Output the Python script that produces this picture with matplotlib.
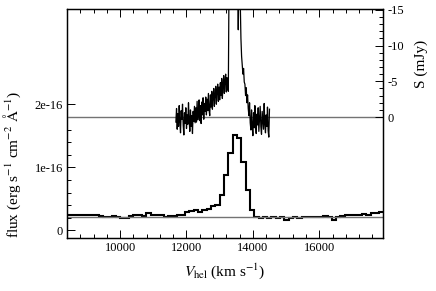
import matplotlib
matplotlib.use("Agg")
import matplotlib.pyplot as plt
import numpy as np
from matplotlib.ticker import FixedLocator, MultipleLocator

plt.rcParams['font.family'] = ['Liberation Serif', 'DejaVu Serif']
plt.rcParams['mathtext.fontset'] = 'stix'
plt.rcParams['axes.unicode_minus'] = False

# Optical spectrum (step histogram), flux in units of 1e-16 erg/s/cm2/A
opt_edge_start = 8320   # km/s, left edge of first bin
opt_bin_width = 130     # km/s
opt_flux = [0.24, 0.24, 0.25, 0.24, 0.25, 0.25, 0.24, 0.25, 0.23, 0.21,
            0.22, 0.23, 0.21, 0.20, 0.19, 0.23, 0.24, 0.24, 0.23, 0.28,
            0.24, 0.25, 0.24, 0.22, 0.23, 0.23, 0.24, 0.25, 0.29, 0.31,
            0.33, 0.30, 0.33, 0.34, 0.38, 0.41, 0.56, 0.88, 1.22, 1.51,
            1.46, 1.09, 0.64, 0.32, 0.21, 0.20, 0.21, 0.20, 0.21, 0.19,
            0.21, 0.16, 0.19, 0.21, 0.20, 0.21, 0.22, 0.21, 0.22, 0.21,
            0.23, 0.22, 0.17, 0.22, 0.23, 0.24, 0.24, 0.24, 0.25, 0.26,
            0.25, 0.27, 0.28, 0.30]
opt_continuum = 0.216

# HI spectrum, S in mJy (absorption plotted upward on an inverted axis)
hi_v_start = 11680   # km/s
hi_v_step = 20       # km/s
hi_S = [0.7, -1.2, 1.7, -0.5, 1.3, -1.6, 0.6, 2.2, -0.9, 0.3,
        -1.8, 1.1, 2.5, -0.6, 0.9, -1.3, 1.6, -0.3, 1.0, -2.0,
        0.4, 2.0, -1.0, 1.3, -0.2, 2.3, -0.8, 0.6, -1.5, 0.8,
        -1.3, 0.7, -2.2, 0.4, -0.6, -2.4, 0.5, -1.6, 0.9, -2.1,
        -0.3, -2.7, 0.3, -1.9, -0.8,
        -2.8, -0.3, -2.5, -0.9, -3.3, -1.0, -0.2, -3.1, -1.4, -3.6,
        -1.1, -2.8, -4.0, -1.5, -3.2, -4.3, -1.8, -3.7, -4.6, -2.2,
        -4.2, -2.4, -4.8, -3.0, -5.4, -2.6, -4.4, -5.8, -3.3, -5.1,
        -6.0, -3.5, -5.5, -4.0, -3.6,
        -18.0, -24.0, -28.0, -27.0, -29.0, -26.0, -28.5, -30.0, -27.5, -29.0,
        -28.0, -26.5, -25.0, -22.0,
        -12.2, -21.0, -24.0, -16.0,
        -11.0, -8.5, -7.2, -6.0, -6.8, -4.9, -4.6, -3.0, -4.1, -2.0,
        -3.1, -1.2, -0.2, -2.0, 0.8,
        1.8, -1.0, 1.3, 2.6, -0.6, 1.5, -1.6, 0.7, 2.3, -0.4,
        1.1, -1.3, 2.0, 0.1, -1.5, 1.3, 2.4, -0.8, 0.4, 1.7,
        -1.9, 1.0, 2.2, -0.3, 1.3, -1.4, 1.9, 2.8, -1.1]

flux_ticks = [0, 1, 2]
flux_tick_labels = ['0', '1e-16', '2e-16']
S_ticks = [0, -5, -10, -15]
v_ticks = [10000, 12000, 14000, 16000]

opt_edges = opt_edge_start + opt_bin_width * np.arange(len(opt_flux) + 1)
hi_v = hi_v_start + hi_v_step * np.arange(len(hi_S))

fig = plt.figure(figsize=(4.36, 2.91), dpi=100)
ax = fig.add_axes([0.1537, 0.1821, 0.7247, 0.7869])

# lower panel: optical spectrum
ax.stairs(opt_flux, opt_edges, color='black', lw=1.5, baseline=None)
ax.axhline(opt_continuum, color='0.45', lw=1.0, zorder=1)
ax.set_xlim(8400, 17920)
ax.set_ylim(-0.12, 3.51)

ax.xaxis.set_major_locator(FixedLocator(v_ticks))
ax.xaxis.set_minor_locator(MultipleLocator(400))
ax.yaxis.set_major_locator(FixedLocator(flux_ticks))
ax.set_yticklabels(flux_tick_labels)
ax.yaxis.set_minor_locator(FixedLocator(np.arange(0, 2.01, 0.2)))
ax.tick_params(which='both', direction='in', top=True, right=False,
               labelsize=9, width=0.7, pad=3)
ax.tick_params(which='major', length=6)
ax.tick_params(which='minor', length=3)

ax.set_xlabel(r'$V_{\rm hel}$ (km s$^{-1}$)', fontsize=11, labelpad=5)
ax.set_ylabel(r'flux (erg s$^{-1}$ cm$^{-2}$ $\mathrm{\AA}^{-1}$)', fontsize=11)
ax.yaxis.set_label_coords(-0.139, 0.32)

# upper panel: HI spectrum on twin axis
ax2 = ax.twinx()
ax2.plot(hi_v, hi_S, color='black', lw=0.9)
ax2.axhline(0, color='0.45', lw=1.0, zorder=1)
ax2.set_ylim(16.9, -15.1)
ax2.yaxis.set_major_locator(FixedLocator(S_ticks))
ax2.yaxis.set_minor_locator(FixedLocator(np.arange(-15, 0.5, 1)))
ax2.tick_params(which='both', direction='in', labelsize=9, width=0.7, pad=3)
ax2.tick_params(which='major', length=6)
ax2.tick_params(which='minor', length=3)
ax2.set_ylabel('S (mJy)', fontsize=11)
ax2.yaxis.set_label_coords(1.1, 0.76)

for a in (ax, ax2):
    for s in a.spines.values():
        s.set_linewidth(0.9)

fig.savefig('out.png', dpi=100)
